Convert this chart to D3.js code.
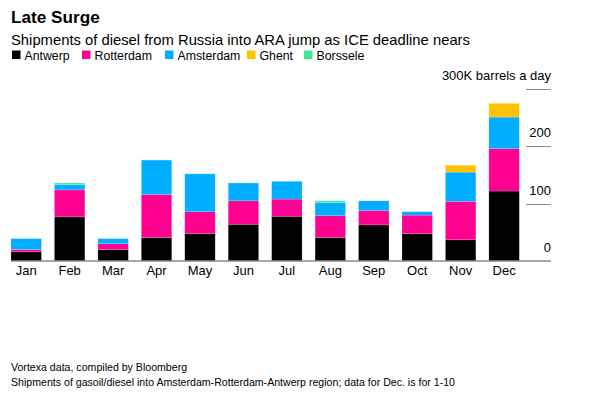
<!DOCTYPE html>
<html>
<head>
<meta charset="utf-8">
<script src="https://cdn.jsdelivr.net/npm/d3@7"></script>
<style>
  body { margin: 0; background: #fff; }
  text { font-family: "Liberation Sans", Arial, sans-serif; fill: #000; }
</style>
</head>
<body>
<svg id="chart" width="597" height="393"></svg>
<script>
// data (thousand barrels a day)
var months = ["Jan", "Feb", "Mar", "Apr", "May", "Jun", "Jul", "Aug", "Sep", "Oct", "Nov", "Dec"];
var ports = ["Antwerp", "Rotterdam", "Amsterdam", "Ghent", "Borssele"];
var antwerp   = [16, 77, 20, 41, 48, 64, 78, 41, 63, 48, 37, 122];
var rotterdam = [4, 47, 10, 75, 38, 41, 30, 38, 25, 32, 67, 74];
var amsterdam = [19, 9, 9, 60, 66, 31, 31, 23, 17, 6, 51, 55];
var ghent     = [0, 0, 0, 0, 0, 0, 0, 0, 0, 0, 12, 24];
var borssele  = [0, 3, 0, 0, 0, 0, 0, 3, 0, 0, 0, 0];
var yTicks = [0, 100, 200, 300];
var colors = ["#000000", "#ff0090", "#00aeff", "#ffc200", "#3ee897"];

var svg = d3.select("#chart");

var rows = months.map(function(m, i) {
  return { month: m, Antwerp: antwerp[i], Rotterdam: rotterdam[i], Amsterdam: amsterdam[i], Ghent: ghent[i], Borssele: borssele[i] };
});
var stacked = d3.stack().keys(ports)(rows);

var x = d3.scaleBand().domain(months).range([11, 519.3]).paddingInner(0.3).paddingOuter(0);
var y = d3.scaleLinear().domain([0, 300]).range([261, 89]);
var color = d3.scaleOrdinal().domain(ports).range(colors);

// title block
svg.append("text").attr("x", 11).attr("y", 23).style("font-size", "17.2px").style("font-weight", "bold").text("Late Surge");
svg.append("text").attr("x", 11).attr("y", 45).style("font-size", "14.8px").text("Shipments of diesel from Russia into ARA jump as ICE deadline nears");

// legend
var legendX = [12, 82, 165, 247, 304];
var legend = svg.selectAll("g.legend").data(ports).enter().append("g")
  .attr("class", "legend")
  .attr("transform", function(d, i) { return "translate(" + legendX[i] + ",0)"; });
legend.append("rect").attr("x", 0).attr("y", 50.5).attr("width", 8.5).attr("height", 8.5)
  .attr("fill", function(d) { return color(d); });
legend.append("text").attr("x", 12.5).attr("y", 59.5).style("font-size", "12.3px").text(function(d) { return d; });

// gridlines + y labels on the right
svg.selectAll("line.grid").data(yTicks.slice(1)).enter().append("line")
  .attr("class", "grid")
  .attr("x1", 526).attr("x2", 551)
  .attr("y1", function(d) { return Math.round(y(d)) + 0.5; })
  .attr("y2", function(d) { return Math.round(y(d)) + 0.5; })
  .attr("stroke", "#8a8a8a").attr("stroke-width", 1);

svg.selectAll("text.ylab").data(yTicks).enter().append("text")
  .attr("class", "ylab")
  .attr("x", 551)
  .attr("y", function(d) { return y(d) - 9; })
  .attr("text-anchor", "end")
  .style("font-size", "13px")
  .text(function(d) { return d === 300 ? "300K barrels a day" : d; });

// bars
svg.selectAll("g.layer").data(stacked).enter().append("g")
  .attr("class", "layer")
  .attr("fill", function(d) { return color(d.key); })
  .selectAll("rect").data(function(d) { return d.filter(function(s) { return s[1] > s[0]; }); })
  .enter().append("rect")
  .attr("x", function(d) { return x(d.data.month); })
  .attr("width", x.bandwidth())
  .attr("y", function(d) { return y(d[1]); })
  .attr("height", function(d) { return y(d[0]) - y(d[1]); })
  .attr("stroke", "rgba(255,255,255,0.25)")
  .attr("stroke-width", 0.6);

// baseline
svg.append("line").attr("x1", 11).attr("x2", 551).attr("y1", 261).attr("y2", 261)
  .attr("stroke", "#8a8a8a").attr("stroke-width", 1.5);

// x axis labels
var xAxis = d3.axisBottom(x).tickSize(0).tickPadding(0);
var xg = svg.append("g").attr("transform", "translate(0,265)").call(xAxis);
xg.select(".domain").remove();
xg.selectAll("text").style("font-size", "13px").style("font-family", "'Liberation Sans', Arial, sans-serif").attr("fill", "#000").attr("dy", "0.8em");

// footer
svg.append("text").attr("x", 11).attr("y", 371).style("font-size", "10.6px").text("Vortexa data, compiled by Bloomberg");
svg.append("text").attr("x", 11).attr("y", 385.5).style("font-size", "10.6px").text("Shipments of gasoil/diesel into Amsterdam-Rotterdam-Antwerp region; data for Dec. is for 1-10");
</script>
</body>
</html>
